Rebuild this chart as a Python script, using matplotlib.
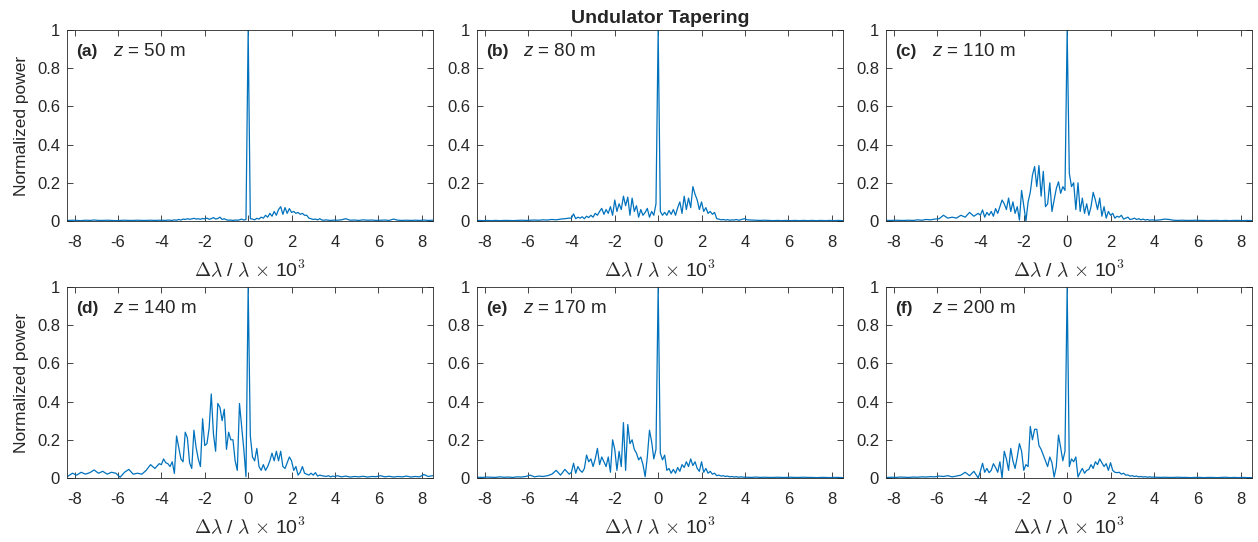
import numpy as np
import matplotlib
matplotlib.use("Agg")
import matplotlib.pyplot as plt
from matplotlib.ticker import FuncFormatter

plt.rcParams['font.family'] = ['Liberation Sans', 'DejaVu Sans']
plt.rcParams['axes.unicode_minus'] = False
plt.rcParams['mathtext.fontset'] = 'custom'
plt.rcParams['mathtext.rm'] = 'Liberation Sans'
plt.rcParams['mathtext.it'] = 'Liberation Sans:italic'

# spectral axis (delta lambda / lambda x 10^3): coarse in the wings, fine near the centre
x_left = np.arange(-83, -40, 2) / 10    # -8.3 .. -4.1
x_mid = np.arange(-40, 41) / 10         # -4.0 .. 4.0
x_right = np.arange(41, 86, 2) / 10     # 4.1 .. 8.5
dl = np.concatenate([x_left, x_mid, x_right])

labels = ['(a)', '(b)', '(c)', '(d)', '(e)', '(f)']
z_pos = [50, 80, 110, 140, 170, 200]

# normalized power
power_a = [
    # wing -8.3 .. -4.1
    0.003, 0.004, 0.003, 0.002, 0.004, 0.003, 0.005, 0.003, 0.003, 0.004, 0.003,
    0.002, 0.003, 0.004, 0.003, 0.003, 0.004, 0.003, 0.003, 0.004, 0.003, 0.004,
    # -4.0 .. 4.0
    0.003, 0.004, 0.003, 0.005, 0.004, 0.003, 0.006, 0.004, 0.008, 0.005,
    0.010, 0.008, 0.012, 0.009, 0.011, 0.014, 0.010, 0.012, 0.009, 0.013,
    0.011, 0.015, 0.009, 0.012, 0.018, 0.010, 0.013, 0.020, 0.008, 0.012,
    0.006, 0.004, 0.005, 0.003, 0.005, 0.004, 0.006, 0.010, 0.005, 0.008,
    1.0,
    0.012, 0.010, 0.006, 0.014, 0.010, 0.020, 0.015, 0.030, 0.020, 0.040,
    0.025, 0.050, 0.030, 0.060, 0.075, 0.035, 0.070, 0.040, 0.065, 0.045,
    0.050, 0.040, 0.045, 0.035, 0.040, 0.030, 0.030, 0.015, 0.012, 0.008,
    0.010, 0.006, 0.012, 0.005, 0.004, 0.006, 0.004, 0.003, 0.004, 0.005,
    # wing 4.1 .. 8.5
    0.004, 0.006, 0.012, 0.004, 0.005, 0.003, 0.006, 0.004, 0.005, 0.003, 0.004,
    0.005, 0.003, 0.010, 0.004, 0.003, 0.004, 0.003, 0.004, 0.003, 0.005, 0.003, 0.004,
]
power_b = [
    0.003, 0.002, 0.003, 0.002, 0.003, 0.002, 0.003, 0.003, 0.002, 0.003, 0.004,
    0.003, 0.004, 0.005, 0.004, 0.006, 0.005, 0.008, 0.006, 0.010, 0.012, 0.015,
    0.015, 0.037, 0.012, 0.020, 0.015, 0.022, 0.012, 0.025, 0.018, 0.030,
    0.020, 0.040, 0.030, 0.050, 0.066, 0.035, 0.060, 0.040, 0.075, 0.030,
    0.110, 0.050, 0.090, 0.060, 0.130, 0.080, 0.125, 0.030, 0.120, 0.050,
    0.080, 0.020, 0.060, 0.030, 0.045, 0.066, 0.020, 0.050, 0.030, 0.090,
    1.0,
    0.050, 0.030, 0.045, 0.030, 0.055, 0.035, 0.060, 0.030, 0.070, 0.100,
    0.040, 0.130, 0.060, 0.120, 0.070, 0.180, 0.140, 0.110, 0.060, 0.100,
    0.050, 0.070, 0.040, 0.050, 0.035, 0.045, 0.012, 0.010, 0.006, 0.008,
    0.005, 0.007, 0.004, 0.006, 0.005, 0.008, 0.004, 0.006, 0.010, 0.012,
    0.006, 0.005, 0.004, 0.003, 0.004, 0.003, 0.002, 0.003, 0.002, 0.003, 0.002,
    0.003, 0.002, 0.003, 0.002, 0.003, 0.002, 0.003, 0.002, 0.003, 0.002, 0.003, 0.002,
]
power_c = [
    0.003, 0.003, 0.004, 0.003, 0.003, 0.004, 0.003, 0.006, 0.004, 0.008, 0.006,
    0.010, 0.012, 0.030, 0.015, 0.020, 0.015, 0.030, 0.020, 0.045, 0.025, 0.040,
    0.030, 0.058, 0.020, 0.045, 0.030, 0.050, 0.025, 0.065, 0.040, 0.075,
    0.110, 0.090, 0.060, 0.120, 0.050, 0.100, 0.040, 0.075, 0.005, 0.160,
    0.080, 0.000, 0.100, 0.150, 0.240, 0.285, 0.180, 0.290, 0.130, 0.260,
    0.075, 0.090, 0.200, 0.050, 0.110, 0.170, 0.205, 0.145, 0.180, 0.160,
    1.0,
    0.250, 0.180, 0.200, 0.060, 0.200, 0.050, 0.120, 0.040, 0.090, 0.030,
    0.075, 0.150, 0.110, 0.060, 0.120, 0.025, 0.075, 0.015, 0.050, 0.030,
    0.040, 0.015, 0.025, 0.020, 0.030, 0.010, 0.015, 0.020, 0.008, 0.010,
    0.015, 0.008, 0.012, 0.006, 0.010, 0.005, 0.008, 0.004, 0.006, 0.005,
    0.004, 0.006, 0.010, 0.008, 0.004, 0.003, 0.004, 0.003, 0.003, 0.004, 0.003,
    0.003, 0.002, 0.003, 0.003, 0.002, 0.003, 0.002, 0.003, 0.003, 0.002, 0.003, 0.002,
]
power_d = [
    0.010, 0.025, 0.015, 0.030, 0.020, 0.028, 0.042, 0.025, 0.035, 0.020, 0.030,
    0.025, 0.004, 0.030, 0.045, 0.020, 0.025, 0.020, 0.040, 0.070, 0.050, 0.075,
    0.070, 0.100, 0.080, 0.075, 0.060, 0.085, 0.024, 0.220, 0.160, 0.100,
    0.085, 0.240, 0.210, 0.080, 0.050, 0.250, 0.160, 0.100, 0.060, 0.310,
    0.170, 0.180, 0.260, 0.440, 0.230, 0.140, 0.390, 0.370, 0.300, 0.360,
    0.150, 0.240, 0.200, 0.200, 0.090, 0.040, 0.390, 0.270, 0.150, 0.007,
    1.0,
    0.220, 0.110, 0.090, 0.155, 0.060, 0.040, 0.070, 0.040, 0.060, 0.090,
    0.130, 0.090, 0.140, 0.090, 0.140, 0.060, 0.050, 0.080, 0.110, 0.090,
    0.040, 0.060, 0.015, 0.030, 0.060, 0.025, 0.020, 0.015, 0.025, 0.015,
    0.028, 0.010, 0.015, 0.012, 0.010, 0.008, 0.012, 0.006, 0.010, 0.007,
    0.012, 0.006, 0.010, 0.005, 0.008, 0.006, 0.009, 0.005, 0.008, 0.007, 0.012,
    0.006, 0.009, 0.005, 0.008, 0.006, 0.010, 0.005, 0.008, 0.006, 0.018, 0.008, 0.012,
]
power_e = [
    0.004, 0.003, 0.005, 0.004, 0.003, 0.006, 0.004, 0.005, 0.003, 0.006, 0.005,
    0.008, 0.015, 0.006, 0.010, 0.008, 0.012, 0.020, 0.040, 0.015, 0.045, 0.020,
    0.030, 0.077, 0.025, 0.060, 0.040, 0.030, 0.050, 0.120, 0.085, 0.100,
    0.060, 0.100, 0.155, 0.070, 0.110, 0.085, 0.060, 0.110, 0.030, 0.200,
    0.150, 0.040, 0.140, 0.060, 0.290, 0.040, 0.280, 0.180, 0.200, 0.150,
    0.130, 0.095, 0.110, 0.070, 0.007, 0.110, 0.250, 0.190, 0.100, 0.150,
    1.0,
    0.130, 0.095, 0.120, 0.040, 0.050, 0.025, 0.045, 0.025, 0.055, 0.035,
    0.070, 0.055, 0.085, 0.060, 0.100, 0.065, 0.085, 0.050, 0.035, 0.085,
    0.030, 0.050, 0.025, 0.035, 0.020, 0.025, 0.012, 0.015, 0.010, 0.012,
    0.008, 0.010, 0.006, 0.008, 0.005, 0.007, 0.004, 0.006, 0.005, 0.004,
    0.004, 0.003, 0.005, 0.003, 0.004, 0.003, 0.003, 0.004, 0.003, 0.003, 0.004,
    0.003, 0.003, 0.004, 0.003, 0.003, 0.002, 0.003, 0.003, 0.002, 0.003, 0.003, 0.002,
]
power_f = [
    0.003, 0.004, 0.003, 0.005, 0.004, 0.003, 0.005, 0.004, 0.006, 0.005, 0.007,
    0.006, 0.010, 0.008, 0.012, 0.006, 0.010, 0.015, 0.030, 0.012, 0.035, 0.000,
    0.035, 0.077, 0.030, 0.050, 0.028, 0.040, 0.075, 0.055, 0.030, 0.085,
    0.000, 0.140, 0.100, 0.040, 0.155, 0.090, 0.050, 0.110, 0.180, 0.140,
    0.040, 0.070, 0.060, 0.270, 0.200, 0.255, 0.255, 0.170, 0.150, 0.120,
    0.090, 0.060, 0.110, 0.080, 0.005, 0.060, 0.225, 0.160, 0.090, 0.140,
    1.0,
    0.060, 0.100, 0.085, 0.110, 0.005, 0.030, 0.050, 0.025, 0.040, 0.045,
    0.070, 0.050, 0.085, 0.070, 0.100, 0.080, 0.060, 0.075, 0.040, 0.080,
    0.040, 0.030, 0.028, 0.030, 0.020, 0.025, 0.015, 0.016, 0.010, 0.012,
    0.008, 0.010, 0.006, 0.008, 0.005, 0.007, 0.004, 0.006, 0.004, 0.005,
    0.004, 0.003, 0.004, 0.003, 0.003, 0.004, 0.003, 0.003, 0.002, 0.003, 0.003,
    0.002, 0.003, 0.003, 0.002, 0.003, 0.004, 0.002, 0.003, 0.002, 0.003, 0.002, 0.002,
]
spectra = [power_a, power_b, power_c, power_d, power_e, power_f]

line_color = '#0072BD'
axis_color = '#262626'

fig = plt.figure(figsize=(12.58, 5.42), dpi=100)
W, H = 1258, 542
lefts = [67, 477, 886]
bottoms = [221, 478]
aw, ah = 366, 191

for i, (lab, z, p) in enumerate(zip(labels, z_pos, spectra)):
    row, col = divmod(i, 3)
    ax = fig.add_axes([lefts[col] / W, 1 - bottoms[row] / H, aw / W, ah / H])
    ax.plot(dl, p, color=line_color, lw=0.9)
    ax.set_xlim(-8.35, 8.52)
    ax.set_ylim(0, 1)
    ax.set_xticks(np.arange(-8, 9, 2))
    ax.set_yticks(np.arange(0, 1.01, 0.2))
    ax.yaxis.set_major_formatter(FuncFormatter(lambda v, pos: '%g' % round(v, 1)))
    ax.tick_params(direction='in', top=True, right=True, length=4, width=0.6,
                   labelsize=12, colors=axis_color)
    ax.tick_params(axis='x', pad=10)
    ax.tick_params(axis='y', pad=5)
    for s in ax.spines.values():
        s.set_linewidth(0.6)
        s.set_color(axis_color)
    ax.set_xlabel(r'$\Delta\lambda$ / $\lambda$ $\times$ 10$^3$', fontsize=14,
                  color=axis_color, math_fontfamily='cm', labelpad=6)
    if col == 0:
        ax.set_ylabel('Normalized power', fontsize=12.5, color=axis_color, labelpad=6)
    ax.text(0.025, 0.865, lab, transform=ax.transAxes, fontsize=12.5,
            fontweight='bold', color=axis_color)
    ax.text(0.125, 0.865, r'$z$ = %d m' % z, transform=ax.transAxes,
            fontsize=13.5, color=axis_color)
    if i == 1:
        ax.set_title('Undulator Tapering', fontsize=14, fontweight='bold',
                     color=axis_color, pad=5)

fig.savefig('out.png', dpi=100)
